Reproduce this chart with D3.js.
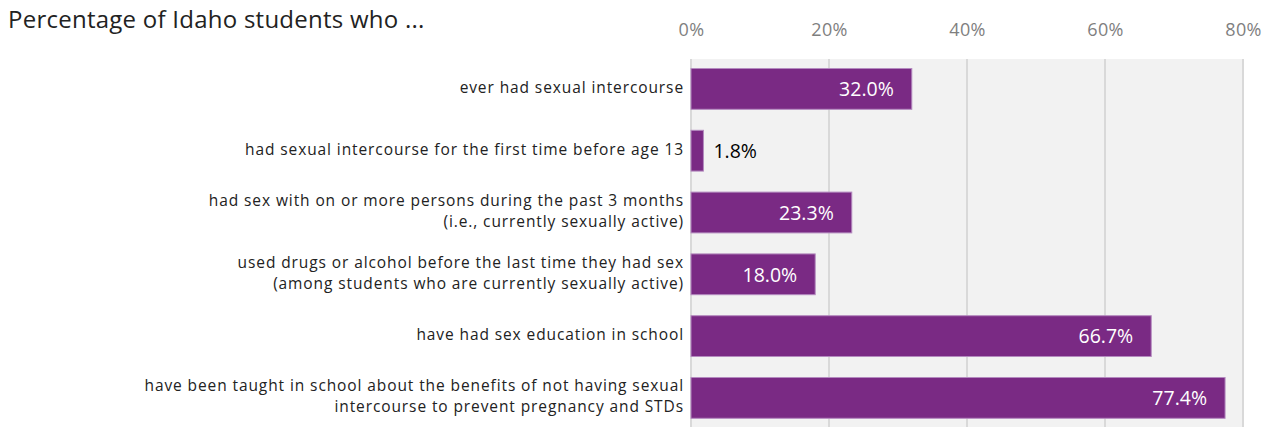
<!DOCTYPE html>
<html><head><meta charset="utf-8">
<script src="https://cdn.jsdelivr.net/npm/d3@7/dist/d3.min.js"></script>
<style>body{margin:0;background:#fff;} svg{display:block;font-family:"Open Sans",sans-serif;}</style>
</head><body>
<svg id="c" width="1274" height="427"></svg>
<script>
const title = "Percentage of Idaho students who ...";
const categories = [
  ["ever had sexual intercourse"],
  ["had sexual intercourse for the first time before age 13"],
  ["had sex with on or more persons during the past 3 months", "(i.e., currently sexually active)"],
  ["used drugs or alcohol before the last time they had sex", "(among students who are currently sexually active)"],
  ["have had sex education in school"],
  ["have been taught in school about the benefits of not having sexual", "intercourse to prevent pregnancy and STDs"]
];
const values = [32.0, 1.8, 23.3, 18.0, 66.7, 77.4];
const tickValues = [0, 20, 40, 60, 80];

const svg = d3.select("#c");
const x = d3.scaleLinear().domain([0, 80]).range([691, 1243]);
const y = d3.scaleBand().domain(d3.range(categories.length)).range([58, 58 + 6 * 61.8]).paddingInner(0.34).paddingOuter(0.17);

// plot background
svg.append("rect").attr("x", x(0)).attr("y", 59).attr("width", x(80) - x(0)).attr("height", 427 - 59).attr("fill", "#f2f2f2");

// gridlines
svg.append("g").selectAll("line").data(tickValues).join("line")
  .attr("x1", d => x(d)).attr("x2", d => x(d)).attr("y1", 59).attr("y2", 427)
  .attr("stroke", "#d9d9d9").attr("stroke-width", 2);

// axis labels
const ax = d3.axisTop(x).tickValues(tickValues).tickFormat(d => d + "%").tickSize(0).tickPadding(0);
const gA = svg.append("g").attr("transform", "translate(0,36)").call(ax);
gA.select(".domain").remove();
gA.selectAll("text").attr("fill", "#7f7f7f").attr("font-size", 18).attr("font-family", '"Open Sans",sans-serif').attr("dy", 0).attr("letter-spacing", 0.3);

// bars
svg.append("g").selectAll("rect").data(values).join("rect")
  .attr("x", x(0)).attr("y", (d, i) => y(i))
  .attr("width", d => x(d) - x(0)).attr("height", y.bandwidth())
  .attr("fill", "#7a2a84").attr("stroke", "#b48abf").attr("stroke-width", 1);

// value labels
svg.append("g").selectAll("text").data(values).join("text")
  .attr("x", d => d < 5 ? x(d) + 10 : x(d) - 18)
  .attr("y", (d, i) => y(i) + y.bandwidth() / 2)
  .attr("dy", "0.37em")
  .attr("text-anchor", d => d < 5 ? "start" : "end")
  .attr("fill", d => d < 5 ? "#000" : "#fff")
  .attr("font-size", 19.5)
  .text(d => d.toFixed(1) + "%");

// category labels
const gL = svg.append("g");
categories.forEach((lines, i) => {
  const cy = y(i) + y.bandwidth() / 2;
  const t = gL.append("text").attr("text-anchor", "end").attr("font-size", 15.5).attr("letter-spacing", 0.9).attr("fill", "#222");
  lines.forEach((ln, j) => {
    t.append("tspan").attr("x", 684).attr("y", cy + (j - (lines.length - 1) / 2) * 21 + 4).text(ln);
  });
});

// title
svg.append("text").attr("x", 8).attr("y", 28).attr("font-size", 24).attr("letter-spacing", 0.25).attr("fill", "#222").text(title);
</script>
</body></html>
